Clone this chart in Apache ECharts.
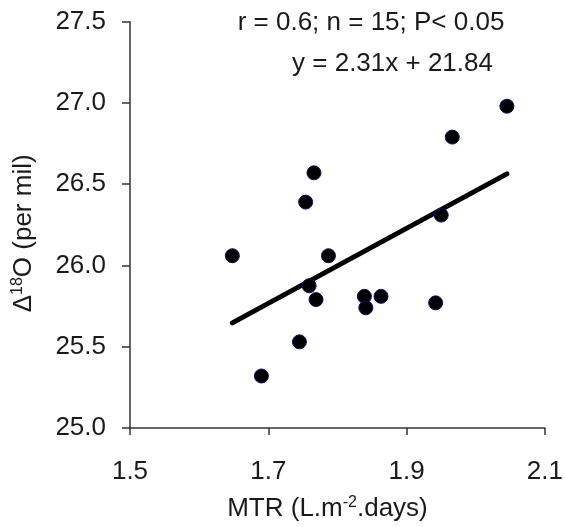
<!DOCTYPE html>
<html>
<head>
<meta charset="utf-8">
<script src="https://cdn.jsdelivr.net/npm/echarts@6/dist/echarts.min.js"></script>
<style>
html,body{margin:0;padding:0;background:#fff;}
#c{width:566px;height:527px;}
</style>
</head>
<body>
<div id="c"></div>
<script>
// Data
const mtr = [1.766, 1.754, 1.648, 1.787, 1.759, 1.769, 1.839, 1.863, 1.841, 1.745, 1.690, 1.950, 1.966, 2.045, 1.942];
const d18O = [26.57, 26.39, 26.06, 26.06, 25.875, 25.79, 25.81, 25.81, 25.74, 25.53, 25.32, 26.31, 26.79, 26.98, 25.77];
const fitSlope = 2.31;
const fitIntercept = 21.84;
const fitRangeX = [1.648, 2.045];
const xTicks = [1.5, 1.7, 1.9, 2.1];
const yTicks = [25.0, 25.5, 26.0, 26.5, 27.0, 27.5];
const statText = 'r = 0.6; n = 15; P< 0.05';
const eqText = 'y = 2.31x + 21.84';

const FONT = '"Liberation Sans", Arial, sans-serif';
const FS = 26;
const points = mtr.map((x, i) => [x, d18O[i]]);
const fitLine = fitRangeX.map(x => [x, fitSlope * x + fitIntercept]);

const chart = echarts.init(document.getElementById('c'), null, {renderer: 'canvas'});
chart.setOption({
  backgroundColor: '#ffffff',
  animation: false,
  grid: {left: 130, top: 21.7, right: 18, bottom: 94},
  xAxis: {
    type: 'value',
    min: xTicks[0], max: xTicks[xTicks.length - 1], interval: 0.2,
    axisLine: {show: true, lineStyle: {color: '#333', width: 1.5}},
    axisTick: {show: true, inside: false, length: 7, lineStyle: {color: '#333', width: 1.5}},
    splitLine: {show: false},
    axisLabel: {fontFamily: FONT, fontSize: FS, color: '#1a1a1a', margin: 31,
      formatter: v => v.toFixed(1)},
    name: '{n|MTR (L.m}{s|-2}{n|.days)}',
    nameLocation: 'middle', nameGap: 67,
    nameTextStyle: {padding: [0, 20, 0, 0], rich: {
      n: {fontFamily: FONT, fontSize: FS, color: '#1a1a1a'},
      s: {fontFamily: FONT, fontSize: 16, color: '#1a1a1a', verticalAlign: 'top', padding: [0, 0, 12, 0]}
    }}
  },
  yAxis: {
    type: 'value',
    min: yTicks[0], max: yTicks[yTicks.length - 1], interval: 0.5,
    axisLine: {show: true, lineStyle: {color: '#333', width: 1.5}},
    axisTick: {show: true, inside: false, length: 8, lineStyle: {color: '#333', width: 1.5}},
    splitLine: {show: false},
    axisLabel: {fontFamily: FONT, fontSize: FS, color: '#1a1a1a', margin: 24,
      formatter: v => v.toFixed(1)},
    name: '{n|\u0394}{s|18}{n|O (per mil)}',
    nameLocation: 'middle', nameGap: 92, nameRotate: 90,
    nameTextStyle: {padding: [0, 17, 0, 0], rich: {
      n: {fontFamily: FONT, fontSize: FS, color: '#1a1a1a'},
      s: {fontFamily: FONT, fontSize: 16, color: '#1a1a1a', verticalAlign: 'top', padding: [0, 0, 12, 0]}
    }}
  },
  series: [
    {
      type: 'line',
      data: fitLine,
      symbol: 'none',
      lineStyle: {color: '#000', width: 5, cap: 'round'},
      z: 2
    },
    {
      type: 'scatter',
      data: points,
      symbol: 'circle',
      symbolSize: 14,
      itemStyle: {color: '#000', borderColor: '#10106a', borderWidth: 1, opacity: 1},
      z: 3
    }
  ],
  graphic: [
    {type: 'text', style: {text: statText, font: FS + 'px ' + FONT, fill: '#1a1a1a', textAlign: 'center', textVerticalAlign: 'middle', x: 371, y: 23}},
    {type: 'text', style: {text: eqText, font: FS + 'px ' + FONT, fill: '#1a1a1a', textAlign: 'center', textVerticalAlign: 'middle', x: 392.5, y: 64}}
  ]
});
</script>
</body>
</html>
